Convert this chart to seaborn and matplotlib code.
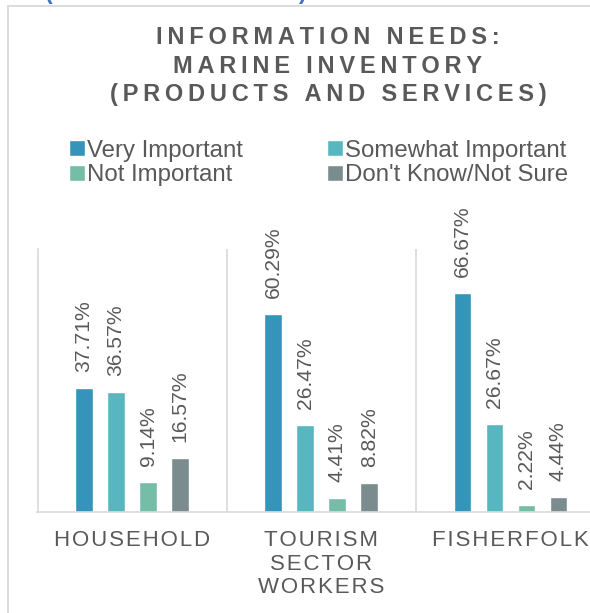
import matplotlib
matplotlib.use("Agg")
import matplotlib.pyplot as plt
from matplotlib.lines import Line2D
import seaborn as sns
import pandas as pd

# ---- data -------------------------------------------------------------
groups = ["HOUSEHOLD", "TOURISM\nSECTOR\nWORKERS", "FISHERFOLK"]
responses = ["Very Important", "Somewhat Important", "Not Important", "Don't Know/Not Sure"]
very_important = [37.71, 60.29, 66.67]
somewhat_important = [36.57, 26.47, 26.67]
not_important = [9.14, 4.41, 2.22]
dont_know = [16.57, 8.82, 4.44]
colors = ["#3494BA", "#58B6C0", "#75BDA7", "#7A8C8E"]

title = "INFORMATION NEEDS:\nMARINE INVENTORY\n(PRODUCTS AND SERVICES)"
header = "(Products and Services)"

TEXT = "#595959"
GRID = "#D9D9D9"
THIN = "\u2009"
HAIR = "\u200a"


def tracked(s, gap):
    """Spread the letters of each line apart with a narrow space."""
    return "\n".join(gap.join(line) for line in s.split("\n"))


sns.set_theme(style="white")
plt.rcParams["font.family"] = ["Liberation Sans", "DejaVu Sans"]

rows = []
for resp, vals in zip(responses, [very_important, somewhat_important, not_important, dont_know]):
    for g, v in zip(groups, vals):
        rows.append({"group": g, "response": resp, "value": v})
df = pd.DataFrame(rows)

W, H = 590, 613
fig = plt.figure(figsize=(W / 100, H / 100), dpi=100)
fig.patch.set_facecolor("white")

# plot area runs past the right edge of the canvas
ax = fig.add_axes([37.5 / W, (H - 512) / H, (605 - 37.5) / W, (512 - 249) / H])

sns.barplot(
    data=df, x="group", y="value", hue="response",
    order=groups, hue_order=responses, palette=colors,
    width=0.677, gap=0.45, saturation=1, errorbar=None, ax=ax,
)

for cont in ax.containers:
    ax.bar_label(cont, labels=[f"{v:.2f}%" for v in cont.datavalues],
                 rotation=90, padding=11.5, fontsize=15.2, color=TEXT)

ax.set_ylim(0, 80)
ax.set_xlim(-0.5, 2.5)
ax.set_yticks([])
ax.set_xlabel("")
ax.set_ylabel("")
for side in ("top", "right"):
    ax.spines[side].set_visible(False)
for side in ("left", "bottom"):
    ax.spines[side].set_color(GRID)
    ax.spines[side].set_linewidth(1.2)

ax.set_xticks([0.5, 1.5], minor=True)
ax.grid(axis="x", which="minor", color=GRID, lw=1.2)
ax.grid(axis="x", which="major", visible=False)
ax.grid(axis="y", visible=False)
ax.tick_params(which="both", length=0)
ax.set_xticks(range(len(groups)))
ax.set_xticklabels([tracked(g, HAIR) for g in groups], fontsize=16, color=TEXT,
                   linespacing=1.17)
ax.tick_params(axis="x", pad=13)

# legend laid out row by row: two columns
handles, labels = ax.get_legend_handles_labels()
order = [0, 2, 1, 3]
ax.legend([handles[i] for i in order], [labels[i] for i in order],
          ncol=2, frameon=False, fontsize=17.3,
          labelcolor=TEXT, loc="upper left",
          bbox_to_anchor=(69 / W, 1 - 139.5 / H), bbox_transform=fig.transFigure,
          borderpad=0, borderaxespad=0, handlelength=0.65, handleheight=0.6,
          handletextpad=0.1, columnspacing=3.5, labelspacing=0.12)

fig.text(328 / W, 1 - 26.5 / H, tracked(title, THIN), ha="center", va="top",
         fontsize=17, fontweight="bold", color=TEXT, linespacing=1.28)

# heading line above the chart, mostly outside the canvas
fig.text(307 / W, 1 + 0.8 / H, header, ha="right", va="baseline",
         fontsize=16.5, fontweight="bold", color="#4472C4")

# chart frame
fig.add_artist(Line2D([7.5 / W, 7.5 / W], [0, 1 - 5.5 / H], transform=fig.transFigure,
                      color=GRID, lw=1.3))
fig.add_artist(Line2D([7.5 / W, 1], [1 - 5.5 / H, 1 - 5.5 / H], transform=fig.transFigure,
                      color=GRID, lw=1.3))

fig.savefig("out.png", dpi=100)
